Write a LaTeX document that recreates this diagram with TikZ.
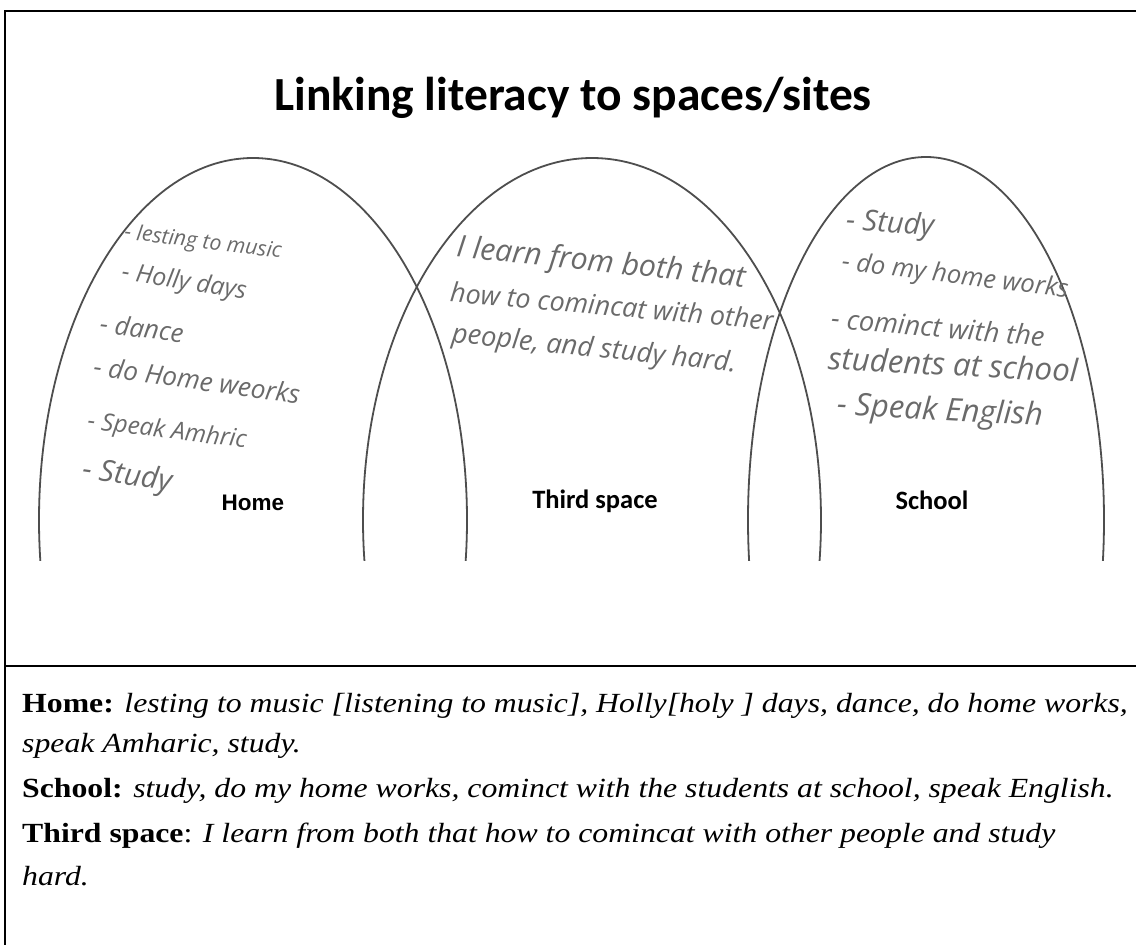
\documentclass[tikz,border=0pt]{standalone}
\usepackage{fontspec}
\newfontfamily\carlito{Carlito}
\newfontfamily\arialf{Liberation Sans}
\newfontfamily\timesf{Liberation Serif}
\newfontfamily\handf{Open Sans}
\definecolor{penc}{HTML}{6A6A6A}
\definecolor{vennc}{HTML}{4E4E4E}
\newcommand{\hwbox}[2]{\resizebox{#1pt}{!}{#2}}
\newcommand{\capx}[1]{\scalebox{1.146}[1]{#1}}
\tikzset{
  frameline/.style={line width=2.6pt, black},
  vennline/.style={line width=1.8pt, vennc},
  titlet/.style={font=\carlito\bfseries\fontsize{47.5}{50}\selectfont, inner sep=0pt},
  lblc/.style={font=\carlito\bfseries\fontsize{26.5}{28}\selectfont, inner sep=0pt},
  lbla/.style={font=\arialf\bfseries\fontsize{22.5}{24}\selectfont, inner sep=0pt},
  hw/.style={font=\handf\itshape\fontsize{20}{22}\selectfont, text=penc, inner sep=0pt},
  capt/.style={font=\timesf\fontsize{27.7}{30}\selectfont, inner sep=0pt, anchor=base west},
}
\begin{document}
\begin{tikzpicture}[x=1pt,y=-1pt]
\useasboundingbox (0,0) rectangle (1136,945);
\fill[white] (0,0) rectangle (1136,945);
% frame
\draw[frameline] (5,945) -- (5,11) -- (1136,11);
\draw[frameline] (5,666) -- (1136,666);
% venn ellipses, cut at the bottom
\begin{scope}
\clip (0,0) rectangle (1136,560);
\draw[vennline] (253,520) ellipse [x radius=214pt, y radius=362pt];
\draw[vennline] (592,520) ellipse [x radius=229pt, y radius=362pt];
\draw[vennline] (926,520) ellipse [x radius=178pt, y radius=363pt];
\end{scope}
% title
\node[titlet, anchor=base] (title) at (573,110) {Linking literacy to spaces/sites};
% labels
\node[lbla] (home) at (253,503) {Home};
\node[lblc] (third) at (595,501) {Third space};
\node[lblc] (school) at (932,500) {School};
% handwriting: home
\node[hw, rotate=-7] (h1) at (203,243) {\hwbox{158}{- lesting to music}};
\node[hw, rotate=-9] (h2) at (184,283) {\hwbox{126}{- Holly days}};
\node[hw, rotate=-7] (h3) at (142,328) {\hwbox{84}{- dance}};
\node[hw, rotate=-8] (h4) at (197,380) {\hwbox{208}{- do Home weorks}};
\node[hw, rotate=-7] (h5) at (167,432) {\hwbox{160}{- Speak Amhric}};
\node[hw, rotate=-8] (h6) at (127,477) {\hwbox{90}{- Study}};
% handwriting: third space
\node[hw, rotate=-6] (t1) at (601,264) {\hwbox{290}{I learn from both that}};
\node[hw, rotate=-5] (t2) at (612,306) {\hwbox{324}{how to comincat with other}};
\node[hw, rotate=-6] (t3) at (594,350) {\hwbox{286}{people, and study hard.}};
% handwriting: school
\node[hw, rotate=-4] (s1) at (890,225) {\hwbox{88}{- Study}};
\node[hw, rotate=-7] (s2) at (955,277) {\hwbox{228}{- do my home works}};
\node[hw, rotate=-5] (s3) at (938,327) {\hwbox{214}{- cominct with the}};
\node[hw, rotate=-3] (s4) at (953,364) {\hwbox{250}{students at school}};
\node[hw, rotate=-3] (s5) at (940,412) {\hwbox{206}{- Speak English}};
% caption
\node[capt] (c1) at (22,712) {\capx{\textbf{Home:} \textit{lesting to music [listening to music], Holly[holy ] days, dance, do home works,}}};
\node[capt] (c2) at (22,752) {\capx{\textit{speak Amharic, study.}}};
\node[capt] (c3) at (22,797) {\capx{\textbf{School:} \textit{study, do my home works, cominct with the students at school, speak English.}}};
\node[capt] (c4) at (22,842) {\capx{\textbf{Third space}: \textit{I learn from both that how to comincat with other people and study}}};
\node[capt] (c5) at (22,885) {\capx{\textit{hard.}}};
\end{tikzpicture}
\end{document}
